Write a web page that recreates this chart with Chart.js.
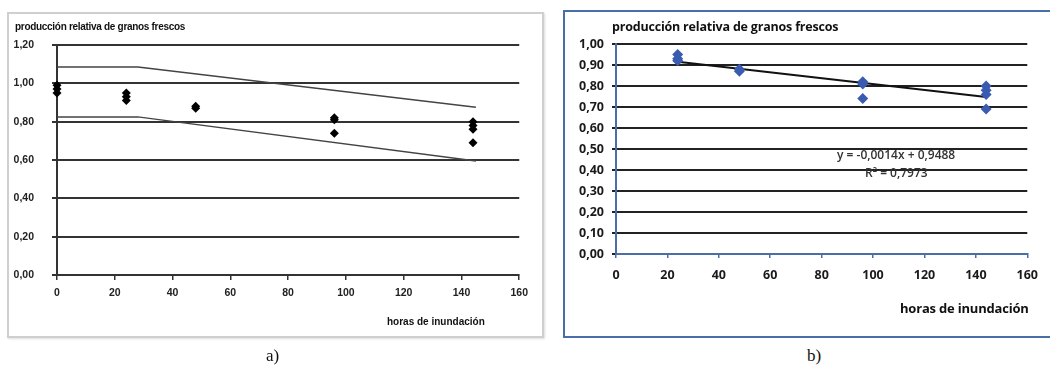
<!DOCTYPE html>
<html>
<head>
<meta charset="utf-8">
<script src="https://cdn.jsdelivr.net/npm/chart.js@4.4.1/dist/chart.umd.min.js"></script>
<style>
  body { margin: 0; background: #fff; width: 1050px; height: 373px; position: relative; overflow: hidden; }
  .marco { position: absolute; box-sizing: border-box; }
  #marcoA { left: 7px; top: 12px; width: 537px; height: 326px; border: 2px solid #cfcfcf; box-shadow: 1px 1px 2px #ddd; }
  #marcoB { left: 563px; top: 10px; width: 490px; height: 328px; border: 2px solid #4a6ea8; }
  canvas { position: absolute; }
  .txt { position: absolute; white-space: nowrap; color: #222; }
  #titA { left: 15px; top: 21px; font: bold 10px "Liberation Sans Narrow", "Liberation Sans", sans-serif; letter-spacing: -0.3px; color: #111; }
  #ejeA { left: 387px; top: 316px; font: bold 10px "Liberation Sans Narrow", "Liberation Sans", sans-serif; color: #111; }
  #titB { left: 612px; top: 18px; font: 700 12.5px "Open Sans", sans-serif; letter-spacing: -0.2px; color: #111; }
  #ejeB { left: 900px; top: 299px; font: 700 13px "Open Sans", sans-serif; letter-spacing: -0.2px; color: #111; }
  #ecuacion { left: 837px; top: 146px; font: 600 12px "Open Sans", sans-serif; color: #333; }
  #r2 { left: 865px; top: 164px; font: 600 12px "Open Sans", sans-serif; color: #333; }
  .letra { font: 17px "Liberation Serif", serif; color: #111; }
  #letraA { left: 266px; top: 346px; }
  #letraB { left: 807px; top: 346px; }
</style>
</head>
<body>
<div class="marco" id="marcoA"></div>
<div class="marco" id="marcoB"></div>
<canvas id="graficoA" width="528" height="325" style="left:7px;top:12px;width:528px;height:325px"></canvas>
<canvas id="graficoB" width="485" height="327" style="left:563px;top:10px;width:485px;height:327px"></canvas>
<div class="txt" id="titA">producción relativa de granos frescos</div>
<div class="txt" id="ejeA">horas de inundación</div>
<div class="txt" id="titB">producción relativa de granos frescos</div>
<div class="txt" id="ejeB">horas de inundación</div>
<div class="txt" id="ecuacion">y = -0,0014x + 0,9488</div>
<div class="txt" id="r2">R² = 0,7973</div>
<div class="txt letra" id="letraA">a)</div>
<div class="txt letra" id="letraB">b)</div>
<script>
// datos del grafico a)
const horasA = [0, 0, 0, 24, 24, 24, 48, 48, 96, 96, 96, 144, 144, 144, 144];
const prodA = [0.99, 0.97, 0.95, 0.95, 0.93, 0.91, 0.88, 0.87, 0.82, 0.81, 0.74, 0.80, 0.78, 0.76, 0.69];
const bandaX = [0, 28, 145];
const bandaSup = [1.085, 1.085, 0.875];
const bandaInf = [0.825, 0.825, 0.595];

// datos del grafico b)
const horasB = [24, 24, 24, 48, 48, 96, 96, 96, 144, 144, 144, 144];
const prodB = [0.95, 0.93, 0.92, 0.88, 0.87, 0.82, 0.81, 0.74, 0.80, 0.78, 0.76, 0.69];
const pendiente = -0.0014;
const intercepto = 0.9488;
const rangoTendencia = [24, 144];

function pares(xs, ys) {
    return xs.map(function (x, i) { return { x: x, y: ys[i] }; });
}

function coma(v) {
    return v.toFixed(2).replace('.', ',');
}

Chart.defaults.animation = false;

new Chart(document.getElementById('graficoA'), {
    type: 'scatter',
    data: {
        datasets: [
            {
                data: pares(horasA, prodA),
                pointStyle: 'rectRot',
                pointRadius: 4.5,
                backgroundColor: '#000',
                borderColor: '#000',
                borderWidth: 0,
                clip: false
            },
            {
                type: 'line',
                data: pares(bandaX, bandaSup),
                borderColor: '#444',
                borderWidth: 1.5,
                pointRadius: 0,
                fill: false
            },
            {
                type: 'line',
                data: pares(bandaX, bandaInf),
                borderColor: '#444',
                borderWidth: 1.5,
                pointRadius: 0,
                fill: false
            }
        ]
    },
    options: {
        responsive: false,
        layout: { padding: { top: 33, right: 10, left: 0, bottom: 0 } },
        plugins: { legend: { display: false }, tooltip: { enabled: false } },
        scales: {
            x: {
                type: 'linear', min: 0, max: 160,
                afterFit: function (s) { s.height = 62; },
                ticks: { stepSize: 20, padding: 7, color: '#222', font: { family: 'Liberation Sans', size: 10.5, weight: 'bold' } },
                grid: { drawOnChartArea: false, tickLength: 5, color: '#333', lineWidth: 1.5 },
                border: { color: '#333', width: 2, z: -1 }
            },
            y: {
                min: 0, max: 1.2,
                afterFit: function (s) { s.width = 50; },
                ticks: { stepSize: 0.2, padding: 18, color: '#222', callback: coma, font: { family: 'Liberation Sans', size: 10.5, weight: 'bold' } },
                grid: { color: '#333', lineWidth: 2, tickLength: 5 },
                border: { color: '#333', width: 2, z: -1 }
            }
        }
    }
});

new Chart(document.getElementById('graficoB'), {
    type: 'scatter',
    data: {
        datasets: [
            {
                data: pares(horasB, prodB),
                pointStyle: 'rectRot',
                pointRadius: 5.5,
                backgroundColor: '#3a5cb0',
                borderColor: '#3a5cb0',
                borderWidth: 0
            },
            {
                type: 'line',
                data: rangoTendencia.map(function (x) { return { x: x, y: pendiente * x + intercepto }; }),
                borderColor: '#111',
                borderWidth: 2,
                pointRadius: 0,
                fill: false
            }
        ]
    },
    options: {
        responsive: false,
        layout: { padding: { top: 34, right: 7, left: 0, bottom: 0 } },
        plugins: { legend: { display: false }, tooltip: { enabled: false } },
        scales: {
            x: {
                type: 'linear', min: 0, max: 160,
                afterFit: function (s) { s.height = 83; },
                ticks: { stepSize: 20, padding: 10, color: '#1a1a1a', font: { family: 'Open Sans', size: 12.5, weight: 'bold' } },
                grid: { drawOnChartArea: false, tickLength: 4, color: '#4a6ea8', lineWidth: 1.5 },
                border: { color: '#4a6ea8', width: 2 }
            },
            y: {
                min: 0, max: 1.0,
                afterFit: function (s) { s.width = 53; },
                ticks: { stepSize: 0.1, padding: 8, color: '#1a1a1a', callback: coma, font: { family: 'Open Sans', size: 12.5, weight: 'bold' } },
                grid: { color: '#222', lineWidth: 2, tickLength: 4 },
                border: { color: '#4a6ea8', width: 2 }
            }
        }
    }
});
</script>
</body>
</html>
